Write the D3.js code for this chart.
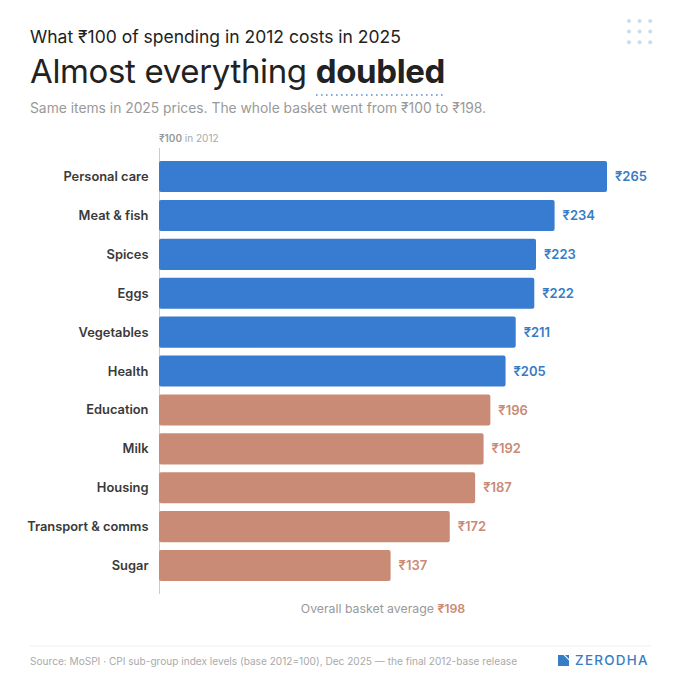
<!DOCTYPE html>
<html>
<head>
<meta charset="utf-8">
<script src="https://cdn.jsdelivr.net/npm/d3@7"></script>
<style>
  html, body { margin: 0; padding: 0; background: #fff; }
  svg { display: block; font-family: Inter, sans-serif; }
</style>
</head>
<body>
<svg id="chart"></svg>
<script>
const categories = ["Personal care", "Meat & fish", "Spices", "Eggs", "Vegetables", "Health", "Education", "Milk", "Housing", "Transport & comms", "Sugar"];
const values = [265, 234, 223, 222, 211, 205, 196, 192, 187, 172, 137];
const overall = 198;
const dotRows = [0, 1, 2];
const dotCols = [0, 1, 2];

const width = 680;
const height = 680;
const blue = "#377cd0";
const clay = "#ca8b76";
const clayText = "#c98a76";

const svg = d3.select("#chart").attr("width", width).attr("height", height);

// scales
const x = d3.scaleLinear().domain([0, 265]).range([159, 607]);
const y = d3.scaleBand().domain(categories).range([161, 161 + 38.9 * 10.8]).paddingInner(0.2).paddingOuter(0);

const color = d => d >= overall ? blue : clay;
const textColor = d => d >= overall ? "#377cc4" : clayText;

// header
svg.append("text").attr("x", 30).attr("y", 42.5)
    .attr("font-size", 17.5).attr("fill", "#222")
    .text("What ₹100 of spending in 2012 costs in 2025");

const title = svg.append("text").attr("x", 30).attr("y", 83)
    .attr("font-size", 33).attr("fill", "#222").attr("letter-spacing", -0.35);
title.append("tspan").text("Almost everything ");
title.append("tspan").attr("font-weight", 700).text("doubled");

svg.append("line")
    .attr("x1", 316).attr("x2", 445).attr("y1", 95).attr("y2", 95)
    .attr("stroke", "#5b93d2").attr("stroke-width", 1.6)
    .attr("stroke-dasharray", "1.6 3.4");

svg.append("text").attr("x", 30).attr("y", 113)
    .attr("font-size", 13.83).attr("fill", "#999")
    .text("Same items in 2025 prices. The whole basket went from ₹100 to ₹198.");

// dots top right
svg.append("g").selectAll("circle")
    .data(d3.cross(dotRows, dotCols))
    .join("circle")
      .attr("cx", d => 629 + d[1] * 10.6)
      .attr("cy", d => 21 + d[0] * 10.6)
      .attr("r", 2)
      .attr("fill", "#c9dcec");

// baseline label
const baseLabel = svg.append("text").attr("x", 159).attr("y", 142)
    .attr("font-size", 10).attr("fill", "#a8a8a8");
baseLabel.append("tspan").attr("font-weight", 600).attr("fill", "#999").text("₹100");
baseLabel.append("tspan").text(" in 2012");

svg.append("line")
    .attr("x1", 159.5).attr("x2", 159.5).attr("y1", 148).attr("y2", 594)
    .attr("stroke", "#ccc").attr("stroke-width", 1);

// bars
svg.append("g").selectAll("rect")
    .data(values)
    .join("rect")
      .attr("x", x(0))
      .attr("y", (d, i) => y(categories[i]))
      .attr("width", d => x(d) - x(0))
      .attr("height", y.bandwidth())
      .attr("rx", 2)
      .attr("fill", color);

// category labels
svg.append("g").selectAll("text")
    .data(categories)
    .join("text")
      .attr("x", 148.5)
      .attr("y", d => y(d) + y.bandwidth() / 2)
      .attr("dy", "0.35em")
      .attr("text-anchor", "end")
      .attr("font-size", 12.87)
      .attr("font-weight", 600)
      .attr("fill", "#3a3a3a")
      .text(d => d);

// value labels
svg.append("g").selectAll("text")
    .data(values)
    .join("text")
      .attr("x", d => x(d) + 8)
      .attr("y", (d, i) => y(categories[i]) + y.bandwidth() / 2)
      .attr("dy", "0.35em")
      .attr("font-size", 13)
      .attr("font-weight", 600)
      .attr("fill", textColor)
      .text(d => "₹" + d);

// overall note
const note = svg.append("text").attr("x", 383).attr("y", 613)
    .attr("text-anchor", "middle").attr("font-size", 12.3).attr("fill", "#999");
note.append("tspan").text("Overall basket average ");
note.append("tspan").attr("font-weight", 600).attr("fill", clayText).text("₹" + overall);

// footer
svg.append("line")
    .attr("x1", 30).attr("x2", 651).attr("y1", 646).attr("y2", 646)
    .attr("stroke", "#f0f0f0").attr("stroke-width", 1);

svg.append("text").attr("x", 30).attr("y", 665)
    .attr("font-size", 10.1).attr("fill", "#aaa")
    .text("Source: MoSPI · CPI sub-group index levels (base 2012=100), Dec 2025 — the final 2012-base release");

// logo mark
svg.append("path")
    .attr("d", "M558 655H563.5L569 660.5V666H558Z M565 655H569V659Z")
    .attr("fill", "#377cc4");
svg.append("text").attr("x", 575).attr("y", 665)
    .attr("font-size", 13.4).attr("font-weight", 500).attr("letter-spacing", 1.3)
    .attr("fill", "#377cc4").text("ZERODHA");
</script>
</body>
</html>
